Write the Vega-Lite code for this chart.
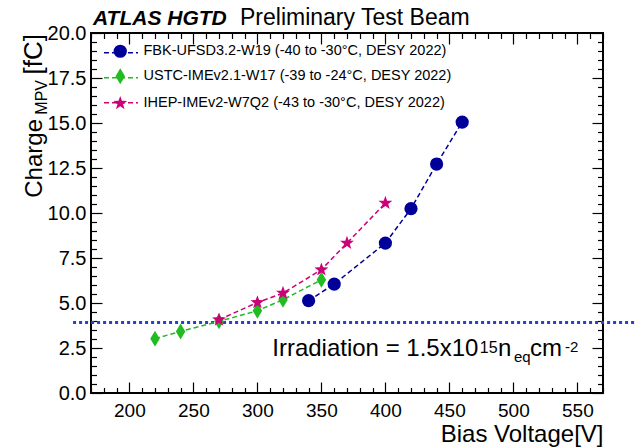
{
  "$schema": "https://vega.github.io/schema/vega-lite/v6.json",
  "width": 512,
  "height": 360,
  "autosize": {"type": "none"},
  "padding": {"left": 91, "top": 33, "right": 33, "bottom": 54},
  "background": "white",
  "config": {"view": {"stroke": "#000", "strokeWidth": 2}, "font": "Liberation Sans"},
  "datasets": {
    "pts": [
      {"series": "FBK-UFSD3.2-W19 (-40 to -30°C, DESY 2022)", "V": 340, "Q": 5.13},
      {"series": "FBK-UFSD3.2-W19 (-40 to -30°C, DESY 2022)", "V": 360, "Q": 6.05},
      {"series": "FBK-UFSD3.2-W19 (-40 to -30°C, DESY 2022)", "V": 400, "Q": 8.33},
      {"series": "FBK-UFSD3.2-W19 (-40 to -30°C, DESY 2022)", "V": 420, "Q": 10.24},
      {"series": "FBK-UFSD3.2-W19 (-40 to -30°C, DESY 2022)", "V": 440, "Q": 12.72},
      {"series": "FBK-UFSD3.2-W19 (-40 to -30°C, DESY 2022)", "V": 460, "Q": 15.05},
      {"series": "USTC-IMEv2.1-W17 (-39 to -24°C, DESY 2022)", "V": 220, "Q": 3.02},
      {"series": "USTC-IMEv2.1-W17 (-39 to -24°C, DESY 2022)", "V": 240, "Q": 3.42},
      {"series": "USTC-IMEv2.1-W17 (-39 to -24°C, DESY 2022)", "V": 270, "Q": 3.98},
      {"series": "USTC-IMEv2.1-W17 (-39 to -24°C, DESY 2022)", "V": 300, "Q": 4.57},
      {"series": "USTC-IMEv2.1-W17 (-39 to -24°C, DESY 2022)", "V": 320, "Q": 5.18},
      {"series": "USTC-IMEv2.1-W17 (-39 to -24°C, DESY 2022)", "V": 350, "Q": 6.29},
      {"series": "IHEP-IMEv2-W7Q2 (-43 to -30°C, DESY 2022)", "V": 270, "Q": 4.07},
      {"series": "IHEP-IMEv2-W7Q2 (-43 to -30°C, DESY 2022)", "V": 300, "Q": 5.03},
      {"series": "IHEP-IMEv2-W7Q2 (-43 to -30°C, DESY 2022)", "V": 320, "Q": 5.55},
      {"series": "IHEP-IMEv2-W7Q2 (-43 to -30°C, DESY 2022)", "V": 350, "Q": 6.85},
      {"series": "IHEP-IMEv2-W7Q2 (-43 to -30°C, DESY 2022)", "V": 370, "Q": 8.33},
      {"series": "IHEP-IMEv2-W7Q2 (-43 to -30°C, DESY 2022)", "V": 400, "Q": 10.55}
    ]
  },
  "layer": [
    {
      "data": {"values": [{}]},
      "mark": {"type": "rule", "color": "#1f45c8", "strokeWidth": 3, "strokeDash": [3, 3], "clip": false},
      "encoding": {
        "x": {"datum": 156, "type": "quantitative", "scale": {"domain": [170, 570], "nice": false}, "axis": null},
        "x2": {"datum": 596},
        "y": {"datum": 3.92, "type": "quantitative", "scale": {"domain": [0, 20], "nice": false}, "axis": null}
      }
    },
    {
      "data": {"name": "pts"},
      "mark": {"type": "line", "strokeDash": [5, 3], "strokeWidth": 1.5},
      "encoding": {
        "x": {
          "field": "V", "type": "quantitative",
          "scale": {"domain": [170, 570], "nice": false},
          "axis": {
            "orient": "bottom",
            "values": [170,180,190,200,210,220,230,240,250,260,270,280,290,300,310,320,330,340,350,360,370,380,390,400,410,420,430,440,450,460,470,480,490,500,510,520,530,540,550,560,570],
            "labelExpr": "datum.value % 50 === 0 ? format(datum.value, 'd') : ''",
            "tickSize": -11,
            "tickDash": {"condition": {"test": "datum.value % 50 === 0", "value": [30, 1]}, "value": [5.5, 30]},
            "tickColor": "#000", "tickWidth": 1.2,
            "domain": false, "grid": false,
            "labelFont": "Liberation Sans", "labelFontSize": 19, "labelColor": "#000",
            "labelPadding": 19, "labelOverlap": false, "labelFlush": false, "labelBound": false,
            "title": "Bias Voltage[V]", "titleFont": "Liberation Sans", "titleFontSize": 24,
            "titleFontWeight": "normal", "titleColor": "#000", "titleAnchor": "end", "titlePadding": 2
          }
        },
        "y": {
          "field": "Q", "type": "quantitative",
          "scale": {"domain": [0, 20], "nice": false},
          "axis": {
            "orient": "left",
            "values": [0,0.5,1,1.5,2,2.5,3,3.5,4,4.5,5,5.5,6,6.5,7,7.5,8,8.5,9,9.5,10,10.5,11,11.5,12,12.5,13,13.5,14,14.5,15,15.5,16,16.5,17,17.5,18,18.5,19,19.5,20],
            "labelExpr": "datum.value % 2.5 === 0 ? format(datum.value, '.1f') : ''",
            "tickSize": -11,
            "tickDash": {"condition": {"test": "datum.value % 2.5 === 0", "value": [30, 1]}, "value": [5.5, 30]},
            "tickColor": "#000", "tickWidth": 1.2,
            "domain": false, "grid": false,
            "labelFont": "Liberation Sans", "labelFontSize": 20, "labelColor": "#000",
            "labelPadding": 16, "labelOverlap": false, "labelFlush": false, "labelBound": false,
            "title": null
          }
        },
        "stroke": {
          "field": "series", "type": "nominal",
          "scale": {
            "domain": ["FBK-UFSD3.2-W19 (-40 to -30°C, DESY 2022)", "USTC-IMEv2.1-W17 (-39 to -24°C, DESY 2022)", "IHEP-IMEv2-W7Q2 (-43 to -30°C, DESY 2022)", " "],
            "range": ["#000099", "#22bb22", "#cc0077", "rgba(0,0,0,0)"]
          },
          "legend": {
            "orient": "none", "legendX": 12, "legendY": 1.7, "title": null, "padding": 0,
            "symbolType": "stroke", "symbolSize": 1156, "symbolDash": [5, 3], "symbolStrokeWidth": 1.5,
            "labelExpr": "''", "labelOpacity": 0, "labelFontSize": 14.5, "labelLimit": 0, "rowPadding": -9
          }
        }
      }
    },
    {
      "data": {"name": "pts"},
      "mark": {"type": "point", "filled": true, "opacity": 1, "strokeWidth": 0, "size": 175},
      "encoding": {
        "x": {
          "field": "V", "type": "quantitative",
          "scale": {"domain": [170, 570], "nice": false},
          "axis": {
            "orient": "top",
            "values": [170,180,190,200,210,220,230,240,250,260,270,280,290,300,310,320,330,340,350,360,370,380,390,400,410,420,430,440,450,460,470,480,490,500,510,520,530,540,550,560,570],
            "labels": false,
            "tickSize": -11,
            "tickDash": {"condition": {"test": "datum.value % 50 === 0", "value": [30, 1]}, "value": [5.5, 30]},
            "tickColor": "#000", "tickWidth": 1.2, "domain": false, "grid": false, "title": null
          }
        },
        "y": {
          "field": "Q", "type": "quantitative",
          "scale": {"domain": [0, 20], "nice": false},
          "axis": {
            "orient": "right",
            "values": [0,0.5,1,1.5,2,2.5,3,3.5,4,4.5,5,5.5,6,6.5,7,7.5,8,8.5,9,9.5,10,10.5,11,11.5,12,12.5,13,13.5,14,14.5,15,15.5,16,16.5,17,17.5,18,18.5,19,19.5,20],
            "labels": false,
            "tickSize": -11,
            "tickDash": {"condition": {"test": "datum.value % 2.5 === 0", "value": [30, 1]}, "value": [5.5, 30]},
            "tickColor": "#000", "tickWidth": 1.2, "domain": false, "grid": false, "title": null
          }
        },
        "fill": {
          "field": "series", "type": "nominal",
          "scale": {
            "domain": ["FBK-UFSD3.2-W19 (-40 to -30°C, DESY 2022)", "USTC-IMEv2.1-W17 (-39 to -24°C, DESY 2022)", "IHEP-IMEv2-W7Q2 (-43 to -30°C, DESY 2022)"],
            "range": ["#000099", "#22bb22", "#cc0077"]
          },
          "legend": {
            "orient": "none", "legendX": 22, "legendY": 11, "title": null, "padding": 0,
            "labelFontSize": 14.5, "labelColor": "#000", "labelLimit": 0,
            "labelOffset": 16, "rowPadding": 10, "symbolStrokeWidth": 0, "symbolSize": 175
          }
        },
        "shape": {
          "field": "series", "type": "nominal",
          "scale": {
            "domain": ["FBK-UFSD3.2-W19 (-40 to -30°C, DESY 2022)", "USTC-IMEv2.1-W17 (-39 to -24°C, DESY 2022)", "IHEP-IMEv2-W7Q2 (-43 to -30°C, DESY 2022)"],
            "range": ["circle", "M0,-1.2L0.72,0L0,1.2L-0.72,0Z", "M0,-1.1L0.26,-0.36L1.05,-0.34L0.42,0.14L0.65,0.89L0,0.44L-0.65,0.89L-0.42,0.14L-1.05,-0.34L-0.26,-0.36Z"]
          },
          "legend": {
            "orient": "none", "legendX": 22, "legendY": 11, "title": null, "padding": 0,
            "labelFontSize": 14.5, "labelColor": "#000", "labelLimit": 0,
            "labelOffset": 16, "rowPadding": 10, "symbolStrokeWidth": 0, "symbolSize": 175
          }
        }
      }
    },
    {
      "data": {"values": [{}]},
      "mark": {"type": "text", "text": "ATLAS HGTD", "fontSize": 21, "fontWeight": "bold", "fontStyle": "italic", "align": "left", "baseline": "alphabetic", "dx": 2, "dy": -8, "color": "#000"},
      "encoding": {
        "x": {"datum": 170, "type": "quantitative", "scale": {"domain": [170, 570], "nice": false}, "axis": null},
        "y": {"datum": 20, "type": "quantitative", "scale": {"domain": [0, 20], "nice": false}, "axis": null}
      }
    },
    {
      "data": {"values": [{}]},
      "mark": {"type": "text", "text": "Preliminary Test Beam", "fontSize": 23, "align": "left", "baseline": "alphabetic", "dx": 149, "dy": -8, "color": "#000"},
      "encoding": {
        "x": {"datum": 170, "type": "quantitative", "scale": {"domain": [170, 570], "nice": false}, "axis": null},
        "y": {"datum": 20, "type": "quantitative", "scale": {"domain": [0, 20], "nice": false}, "axis": null}
      }
    },
    {
      "data": {"values": [{}]},
      "mark": {"type": "text", "text": "[fC]", "fontSize": 26, "angle": 270, "align": "right", "baseline": "alphabetic", "dx": -1, "dy": -49, "color": "#000"},
      "encoding": {
        "x": {"datum": 170, "type": "quantitative", "scale": {"domain": [170, 570], "nice": false}, "axis": null},
        "y": {"datum": 20, "type": "quantitative", "scale": {"domain": [0, 20], "nice": false}, "axis": null}
      }
    },
    {
      "data": {"values": [{}]},
      "mark": {"type": "text", "text": "MPV", "fontSize": 16, "angle": 270, "align": "right", "baseline": "alphabetic", "dx": -47, "dy": -44, "color": "#000"},
      "encoding": {
        "x": {"datum": 170, "type": "quantitative", "scale": {"domain": [170, 570], "nice": false}, "axis": null},
        "y": {"datum": 20, "type": "quantitative", "scale": {"domain": [0, 20], "nice": false}, "axis": null}
      }
    },
    {
      "data": {"values": [{}]},
      "mark": {"type": "text", "text": "Charge", "fontSize": 24, "angle": 270, "align": "right", "baseline": "alphabetic", "dx": -86, "dy": -49, "color": "#000"},
      "encoding": {
        "x": {"datum": 170, "type": "quantitative", "scale": {"domain": [170, 570], "nice": false}, "axis": null},
        "y": {"datum": 20, "type": "quantitative", "scale": {"domain": [0, 20], "nice": false}, "axis": null}
      }
    },
    {
      "data": {"values": [{}]},
      "mark": {"type": "text", "text": "Irradiation = 1.5x10", "fontSize": 24, "align": "left", "baseline": "alphabetic", "dx": 0, "dy": 0, "color": "#000"},
      "encoding": {
        "x": {"datum": 311.6, "type": "quantitative", "scale": {"domain": [170, 570], "nice": false}, "axis": null},
        "y": {"datum": 2.03, "type": "quantitative", "scale": {"domain": [0, 20], "nice": false}, "axis": null}
      }
    },
    {
      "data": {"values": [{}]},
      "mark": {"type": "text", "text": "15", "fontSize": 16, "align": "left", "baseline": "alphabetic", "dx": 207.5, "dy": -3.5, "color": "#000"},
      "encoding": {
        "x": {"datum": 311.6, "type": "quantitative", "scale": {"domain": [170, 570], "nice": false}, "axis": null},
        "y": {"datum": 2.03, "type": "quantitative", "scale": {"domain": [0, 20], "nice": false}, "axis": null}
      }
    },
    {
      "data": {"values": [{}]},
      "mark": {"type": "text", "text": "n", "fontSize": 24, "align": "left", "baseline": "alphabetic", "dx": 225.7, "dy": 0, "color": "#000"},
      "encoding": {
        "x": {"datum": 311.6, "type": "quantitative", "scale": {"domain": [170, 570], "nice": false}, "axis": null},
        "y": {"datum": 2.03, "type": "quantitative", "scale": {"domain": [0, 20], "nice": false}, "axis": null}
      }
    },
    {
      "data": {"values": [{}]},
      "mark": {"type": "text", "text": "eq", "fontSize": 15, "align": "left", "baseline": "alphabetic", "dx": 241.7, "dy": 5.3, "color": "#000"},
      "encoding": {
        "x": {"datum": 311.6, "type": "quantitative", "scale": {"domain": [170, 570], "nice": false}, "axis": null},
        "y": {"datum": 2.03, "type": "quantitative", "scale": {"domain": [0, 20], "nice": false}, "axis": null}
      }
    },
    {
      "data": {"values": [{}]},
      "mark": {"type": "text", "text": "cm", "fontSize": 24, "align": "left", "baseline": "alphabetic", "dx": 257.7, "dy": 0, "color": "#000"},
      "encoding": {
        "x": {"datum": 311.6, "type": "quantitative", "scale": {"domain": [170, 570], "nice": false}, "axis": null},
        "y": {"datum": 2.03, "type": "quantitative", "scale": {"domain": [0, 20], "nice": false}, "axis": null}
      }
    },
    {
      "data": {"values": [{}]},
      "mark": {"type": "text", "text": "-2", "fontSize": 15, "align": "left", "baseline": "alphabetic", "dx": 292.7, "dy": -4, "color": "#000"},
      "encoding": {
        "x": {"datum": 311.6, "type": "quantitative", "scale": {"domain": [170, 570], "nice": false}, "axis": null},
        "y": {"datum": 2.03, "type": "quantitative", "scale": {"domain": [0, 20], "nice": false}, "axis": null}
      }
    }
  ],
  "resolve": {"axis": {"x": "independent", "y": "independent"}}
}
